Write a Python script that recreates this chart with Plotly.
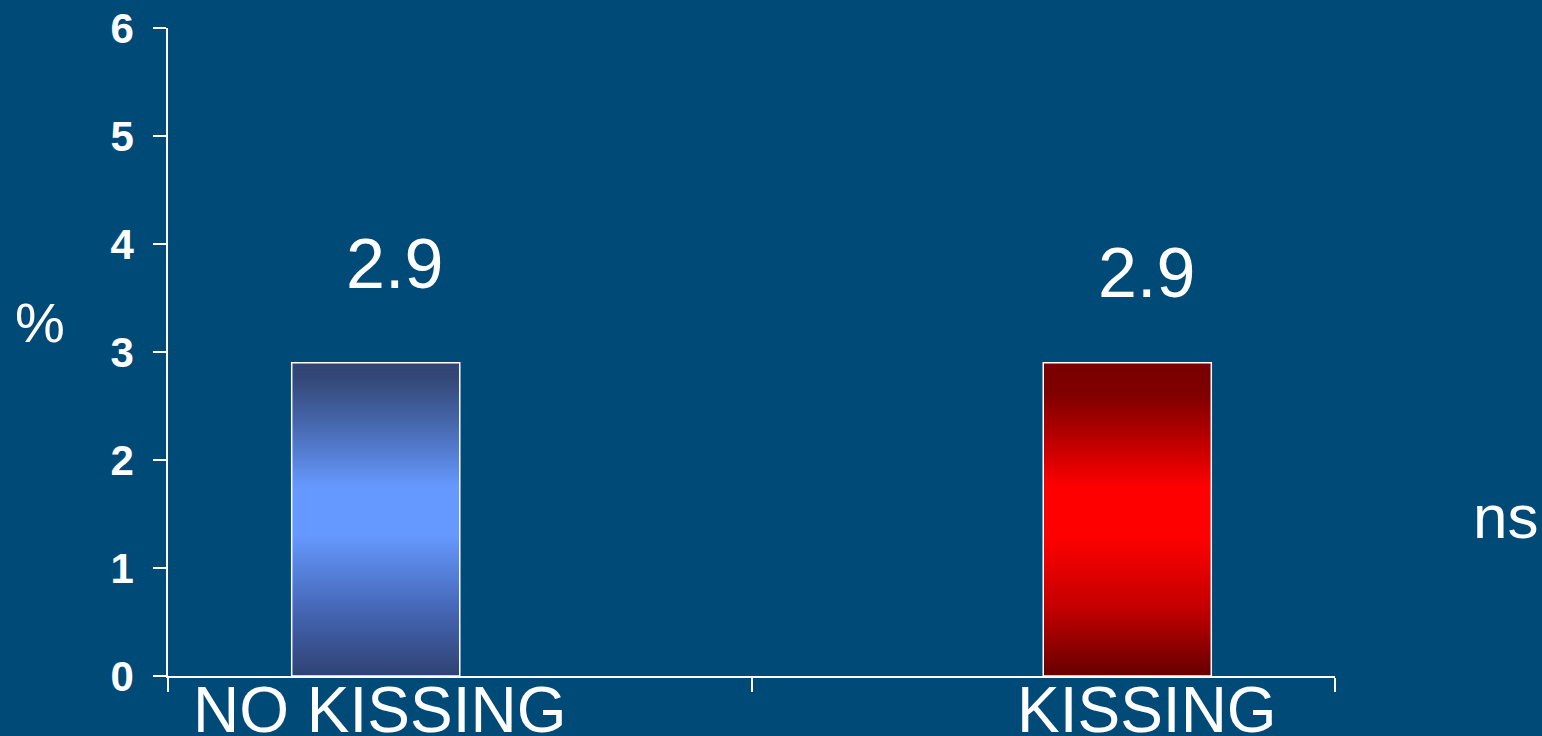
import plotly.graph_objects as go

categories = ["NO KISSING", "KISSING"]
series_names = ["No kissing", "Kissing"]
series_values = [[2.9, None], [None, 2.9]]  # series x category
value_labels = ["2.9", "2.9"]
y_ticks = [0, 1, 2, 3, 4, 5, 6]
y_axis_title = "%"
side_note = "ns"

BG = "#004a78"
GAP = 0.424  # Excel-like gap width (fraction of category)
n_series = len(series_names)
bw = (1 - GAP) / n_series

gradients = [
    [[0, "#2f4272"], [0.22, "#4668b8"], [0.45, "#6699ff"], [0.6, "#6699ff"],
     [0.82, "#4464a8"], [0.95, "#344878"], [1, "#324675"]],
    [[0, "#660000"], [0.22, "#c40000"], [0.45, "#ff0000"], [0.6, "#ff0000"],
     [0.78, "#b00000"], [0.9, "#800000"], [1, "#780000"]],
]
label_yshift = [0, -9]
cat_label_dx = [0.007, 0.033]

fig = go.Figure()
for j, name in enumerate(series_names):
    for i, v in enumerate(series_values[j]):
        if v is None:
            continue
        x0 = i + GAP / 2 + j * bw
        x1 = x0 + bw
        fig.add_trace(go.Scatter(
            x=[x0, x1, x1, x0, x0], y=[0, 0, v, v, 0],
            mode="lines", fill="toself",
            fillgradient=dict(type="vertical", colorscale=gradients[j]),
            line=dict(color="white", width=1.5),
            name=name, showlegend=False, hoverinfo="skip",
        ))
        fig.add_annotation(
            x=(x0 + x1) / 2 + 0.033, y=v, yref="y", xref="x",
            text=value_labels[j], showarrow=False, yanchor="bottom",
            yshift=58 + label_yshift[j],
            font=dict(family="Liberation Sans, Arial", size=70, color="white"),
        )

# category labels under the bars
for i, cat in enumerate(categories):
    j = i
    xc = i + GAP / 2 + j * bw + bw / 2
    fig.add_annotation(
        x=xc + cat_label_dx[i], y=0, xref="x", yref="y",
        text=cat, showarrow=False, yanchor="top", yshift=4,
        font=dict(family="Liberation Sans, Arial", size=64, color="white"),
    )

W, H = 1542, 736
L, R, T, B = 168, 207, 28, 60
pw, ph = W - L - R, H - T - B

def px_to_paper(x, y):
    return (x - L) / pw, 1 - (y - T) / ph

ax, ay = px_to_paper(40, 322)
fig.add_annotation(
    x=ax, y=ay, xref="paper", yref="paper", text=y_axis_title, showarrow=False,
    xanchor="center", yanchor="middle",
    font=dict(family="Liberation Sans, Arial", size=56, color="white"),
)
nx, ny = px_to_paper(1505, 516)
fig.add_annotation(
    x=nx, y=ny, xref="paper", yref="paper", text=side_note, showarrow=False,
    xanchor="center", yanchor="middle",
    font=dict(family="Liberation Sans, Arial", size=62, color="white"),
)

fig.update_layout(
    width=W, height=H,
    margin=dict(l=L, r=R, t=T, b=B, autoexpand=False),
    paper_bgcolor=BG, plot_bgcolor=BG,
    showlegend=False,
    xaxis=dict(range=[0, len(categories)], tickvals=list(range(len(categories) + 1)),
               showticklabels=False, ticks="outside", ticklen=14, tickwidth=1.5,
               tickcolor="white", showline=True, linecolor="white", linewidth=1.5,
               showgrid=False, zeroline=False, fixedrange=True),
    yaxis=dict(range=[0, 6], tickvals=y_ticks, ticks="outside", ticklen=13,
               tickwidth=1.5, tickcolor="white", showline=True, linecolor="white",
               linewidth=1.5, showgrid=False, zeroline=False, ticklabelstandoff=11,
               tickfont=dict(family="Liberation Sans, Arial", size=42, color="white",
                             weight="bold"),
               fixedrange=True),
)

fig.write_html("out.html", config={"displayModeBar": False})
